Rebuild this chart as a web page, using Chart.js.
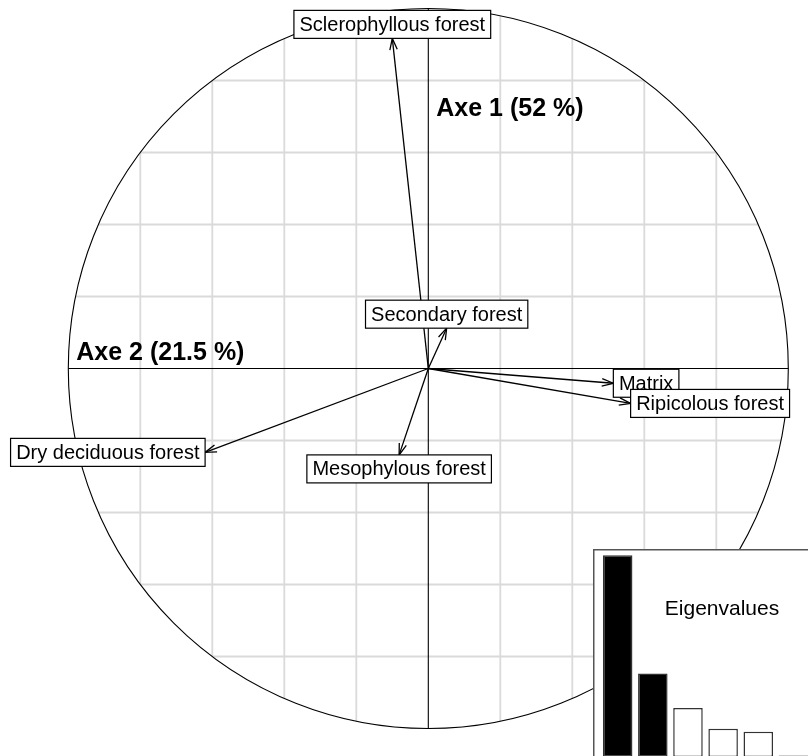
<!DOCTYPE html>
<html>
<head>
<meta charset="utf-8">
<script src="https://cdn.jsdelivr.net/npm/chart.js@4/dist/chart.umd.min.js"></script>
<style>
  html, body { margin: 0; padding: 0; background: #fff; overflow: hidden; width: 808px; height: 756px; }
  #main { position: absolute; left: 0; top: 0; }
  #inset { position: absolute; left: 593px; top: 549px; }
</style>
</head>
<body>
<canvas id="main" width="808" height="756"></canvas>
<canvas id="inset" width="220" height="210"></canvas>
<script>
// ---- Data (correlation circle) ----
const varLabels = ["Sclerophyllous forest", "Secondary forest", "Matrix", "Ripicolous forest", "Dry deciduous forest", "Mesophylous forest"];
const axe2Coord = [-0.100, 0.051, 0.514, 0.562, -0.620, -0.081];   // horizontal
const axe1Coord = [0.917, 0.112, -0.041, -0.097, -0.233, -0.240];   // vertical
const axisTitle1 = "Axe 1 (52 %)";
const axisTitle2 = "Axe 2 (21.5 %)";
const gridSteps = [-0.8, -0.6, -0.4, -0.2, 0.2, 0.4, 0.6, 0.8];

// ---- Data (eigenvalues inset, % of inertia) ----
const eigenLabels = ["1", "2", "3", "4", "5", "6"];
const eigenValues = [52, 21.5, 12.6, 7.3, 6.5, 0.4];
const eigenKept = 2;
const eigenTitle = "Eigenvalues";

const FONT = '"Liberation Sans", Arial, Helvetica, sans-serif';

const arrowDatasets = varLabels.map((lab, i) => ({
  label: lab,
  data: [{ x: 0, y: 0 }, { x: axe2Coord[i], y: axe1Coord[i] }],
  showLine: true,
  borderColor: '#000',
  borderWidth: 1.3,
  pointRadius: 0,
  pointHoverRadius: 0,
  fill: false,
  clip: false
}));

const circlePlugin = {
  id: 'circlePlugin',
  beforeDatasetsDraw(chart) {
    const ctx = chart.ctx;
    const xs = chart.scales.x, ys = chart.scales.y;
    const px = v => xs.getPixelForValue(v);
    const py = v => ys.getPixelForValue(v);
    ctx.save();
    // grid chords
    ctx.strokeStyle = '#dadada';
    ctx.lineWidth = 1.8;
    gridSteps.forEach(g => {
      const h = Math.sqrt(1 - g * g);
      ctx.beginPath();
      ctx.moveTo(px(g), py(-h));
      ctx.lineTo(px(g), py(h));
      ctx.stroke();
      ctx.beginPath();
      ctx.moveTo(px(-h), py(g));
      ctx.lineTo(px(h), py(g));
      ctx.stroke();
    });
    // axes
    ctx.strokeStyle = '#000';
    ctx.lineWidth = 1.1;
    ctx.beginPath();
    ctx.moveTo(px(-1), py(0)); ctx.lineTo(px(1), py(0));
    ctx.moveTo(px(0), py(-1)); ctx.lineTo(px(0), py(1));
    ctx.stroke();
    // circle
    const cx = px(0), cy = py(0), r = px(1) - px(0);
    ctx.beginPath();
    ctx.arc(cx, cy, r, 0, Math.PI * 2);
    ctx.stroke();
    // axis titles
    ctx.fillStyle = '#000';
    ctx.font = 'bold 25px ' + FONT;
    ctx.textBaseline = 'alphabetic';
    ctx.textAlign = 'left';
    ctx.fillText(axisTitle1, px(0) + 8, py(0.702));
    ctx.fillText(axisTitle2, px(-1) + 8, py(0.025));
    ctx.restore();
  },
  afterDatasetsDraw(chart) {
    const ctx = chart.ctx;
    const xs = chart.scales.x, ys = chart.scales.y;
    const ox = xs.getPixelForValue(0), oy = ys.getPixelForValue(0);
    ctx.save();
    // arrow heads
    ctx.strokeStyle = '#000';
    ctx.lineWidth = 1.3;
    varLabels.forEach((lab, i) => {
      const tx = xs.getPixelForValue(axe2Coord[i]);
      const ty = ys.getPixelForValue(axe1Coord[i]);
      const ang = Math.atan2(ty - oy, tx - ox);
      const L = 12, a = 18 * Math.PI / 180;
      ctx.beginPath();
      ctx.moveTo(tx - L * Math.cos(ang - a), ty - L * Math.sin(ang - a));
      ctx.lineTo(tx, ty);
      ctx.lineTo(tx - L * Math.cos(ang + a), ty - L * Math.sin(ang + a));
      ctx.stroke();
    });
    // label boxes
    ctx.font = '20px ' + FONT;
    ctx.textAlign = 'center';
    ctx.textBaseline = 'middle';
    const yh = 14;
    varLabels.forEach((lab, i) => {
      const xr = axe2Coord[i], yr = axe1Coord[i];
      const tx = xs.getPixelForValue(xr);
      const ty = ys.getPixelForValue(yr);
      const txt = ' ' + lab + ' ';
      const xh = ctx.measureText(txt).width;
      let x1 = tx, y1 = ty;
      if (xr > yr && xr > -yr) { x1 = tx + xh / 2; }
      else if (xr > yr && xr <= -yr) { y1 = ty + yh; }
      else if (xr <= yr && xr <= -yr) { x1 = tx - xh / 2; }
      else { y1 = ty - yh; }
      ctx.fillStyle = '#fff';
      ctx.fillRect(x1 - xh / 2, y1 - yh, xh, 2 * yh);
      ctx.strokeStyle = '#000';
      ctx.lineWidth = 1.2;
      ctx.strokeRect(x1 - xh / 2, y1 - yh, xh, 2 * yh);
      ctx.fillStyle = '#000';
      ctx.fillText(txt, x1, y1 + 1);
    });
    ctx.restore();
  }
};

const CX = 428.3, CY = 368.5, R = 360;
new Chart(document.getElementById('main'), {
  type: 'scatter',
  data: { datasets: arrowDatasets },
  options: {
    responsive: false,
    animation: false,
    devicePixelRatio: 1,
    layout: { padding: 0 },
    plugins: { legend: { display: false }, tooltip: { enabled: false } },
    events: [],
    scales: {
      x: { type: 'linear', display: false, min: -CX / R, max: (808 - CX) / R },
      y: { type: 'linear', display: false, min: -(756 - CY) / R, max: CY / R }
    }
  },
  plugins: [circlePlugin]
});

// ---- Eigenvalue inset ----
const insetPlugin = {
  id: 'insetPlugin',
  beforeDraw(chart) {
    const ctx = chart.ctx;
    ctx.save();
    ctx.fillStyle = '#fff';
    ctx.fillRect(0, 0, chart.width, chart.height);
    ctx.strokeStyle = '#555';
    ctx.lineWidth = 1.5;
    ctx.strokeRect(0.75, 0.75, chart.width + 10, chart.height + 10);
    ctx.restore();
  },
  afterDraw(chart) {
    const ctx = chart.ctx;
    ctx.save();
    ctx.fillStyle = '#000';
    ctx.font = '21px ' + FONT;
    ctx.textAlign = 'center';
    ctx.textBaseline = 'alphabetic';
    ctx.fillText(eigenTitle, 722 - 593, 615 - 549);
    ctx.restore();
  }
};

const PXPER = 3.879;
new Chart(document.getElementById('inset'), {
  type: 'bar',
  data: {
    labels: eigenLabels,
    datasets: [{
      data: eigenValues,
      backgroundColor: eigenValues.map((v, i) => i < eigenKept ? '#000' : '#fff'),
      borderColor: '#333',
      borderWidth: 1.5,
      borderSkipped: false,
      barPercentage: 0.84,
      categoryPercentage: 1.0
    }]
  },
  options: {
    responsive: false,
    animation: false,
    devicePixelRatio: 1,
    layout: { padding: { left: 7.1, right: 2, top: 0, bottom: 2 } },
    plugins: { legend: { display: false }, tooltip: { enabled: false } },
    events: [],
    scales: {
      x: { display: false },
      y: { display: false, min: 0, max: 208 / PXPER }
    }
  },
  plugins: [insetPlugin]
});
</script>
</body>
</html>
